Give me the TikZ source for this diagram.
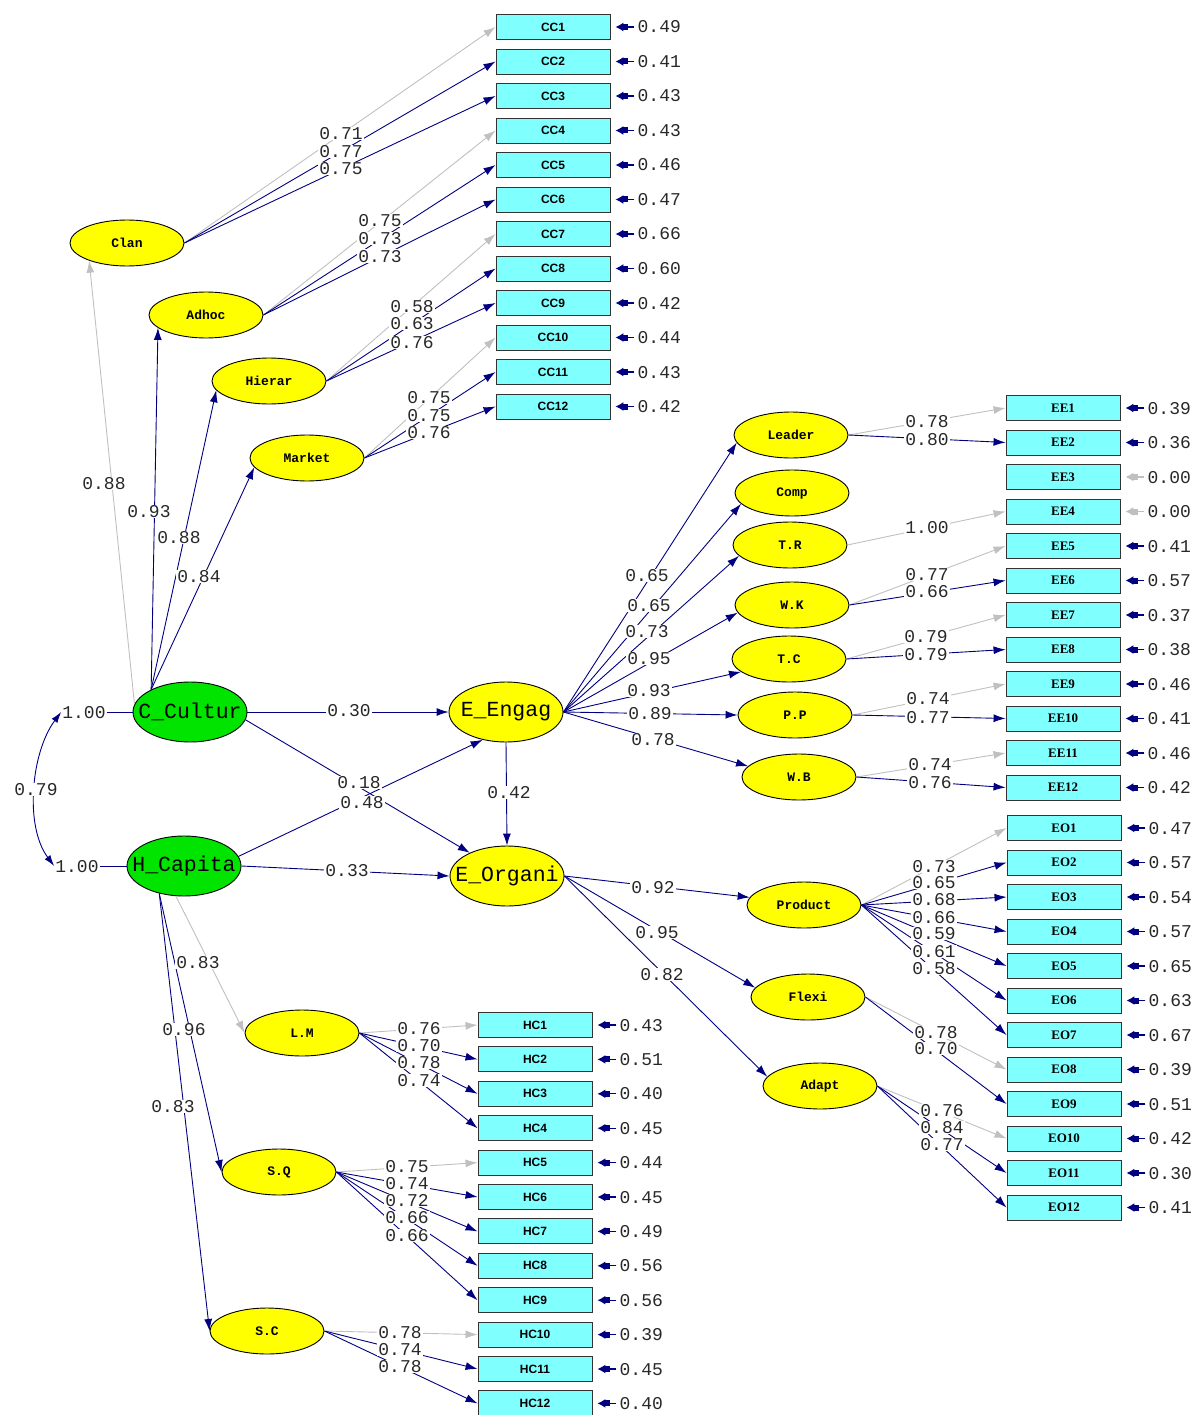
\documentclass[tikz,border=0pt]{standalone}
\usepackage{fontspec}
\usetikzlibrary{shapes.geometric,arrows.meta,positioning}
\newfontfamily\lismono{Liberation Mono}
\newfontfamily\lissans{Liberation Sans}
\newfontfamily\lisserif{Liberation Serif}
\definecolor{lisnavy}{RGB}{0,0,128}
\definecolor{lisgray}{RGB}{192,192,192}
\definecolor{boxcyan}{RGB}{128,255,255}
\definecolor{latyellow}{RGB}{255,255,0}
\definecolor{ksigreen}{RGB}{0,228,0}
\definecolor{numtext}{RGB}{40,40,40}
\tikzset{
  latent/.style={ellipse, draw=black, line width=0.9pt, fill=latyellow, minimum width=114pt, minimum height=46pt,
    inner sep=0pt, font=\lismono\bfseries\fontsize{13}{13}\selectfont},
  bigfactor/.style={latent, minimum height=60pt, inner xsep=-16pt, font=\lismono\fontsize{21.5}{22}\selectfont},
  ksi/.style={bigfactor, fill=ksigreen},
  obs/.style={rectangle, draw=black!80, line width=0.9pt, fill=boxcyan, minimum width=114pt, minimum height=25pt,
    inner sep=0pt, font=\lissans\bfseries\fontsize{12}{12}\selectfont},
  obsserif/.style={obs, font=\lisserif\bfseries\fontsize{13}{13}\selectfont},
  coef/.style={fill=white, inner xsep=1pt, inner ysep=0.5pt, text height=12pt, text depth=0pt,
    text=numtext, font=\lismono\fontsize{18}{18}\selectfont},
  errlbl/.style={inner xsep=1pt, inner ysep=0.5pt, text height=12pt, text depth=0pt,
    text=numtext, font=\lismono\fontsize{18}{18}\selectfont},
  load/.style={draw=lisnavy, line width=0.9pt, -{Latex[length=12pt,width=8pt]}},
  fixed/.style={load, draw=lisgray},
  errarr/.style={draw=lisnavy, line width=1.2pt, shorten >=5pt, shorten <=2pt,
    -{Rectangle[length=5pt,width=6pt]Latex[length=8pt,width=9pt]}},
}
\begin{document}
\begin{tikzpicture}[x=1pt,y=-1pt]
\useasboundingbox (0,0) rectangle (1197,1415);

% indicators with their error variances
\foreach \i/\e in {1/0.49,2/0.41,3/0.43,4/0.43,5/0.46,6/0.47,7/0.66,8/0.60,9/0.42,10/0.44,11/0.43,12/0.42}{
  \node[obs] (cc\i) at (553,{27+34.5*(\i-1)}) {CC\i};
  \node[errlbl, right=26pt of cc\i] (cce\i) {\e};
  \draw[errarr] (cce\i) -- (cc\i);
}
\foreach \i/\e/\c in {1/0.39/lisnavy,2/0.36/lisnavy,3/0.00/lisgray,4/0.00/lisgray,5/0.41/lisnavy,6/0.57/lisnavy,
    7/0.37/lisnavy,8/0.38/lisnavy,9/0.46/lisnavy,10/0.41/lisnavy,11/0.46/lisnavy,12/0.42/lisnavy}{
  \node[obsserif] (ee\i) at (1063,{408+34.5*(\i-1)}) {EE\i};
  \node[errlbl, right=26pt of ee\i] (eee\i) {\e};
  \draw[errarr, draw=\c] (eee\i) -- (ee\i);
}
\foreach \i/\e in {1/0.47,2/0.57,3/0.54,4/0.57,5/0.65,6/0.63,7/0.67,8/0.39,9/0.51,10/0.42,11/0.30,12/0.41}{
  \node[obsserif] (eo\i) at (1064,{828+34.5*(\i-1)}) {EO\i};
  \node[errlbl, right=26pt of eo\i] (eoe\i) {\e};
  \draw[errarr] (eoe\i) -- (eo\i);
}
\foreach \i/\e in {1/0.43,2/0.51,3/0.40,4/0.45,5/0.44,6/0.45,7/0.49,8/0.56,9/0.56,10/0.39,11/0.45,12/0.40}{
  \node[obs] (hc\i) at (535,{1025+34.4*(\i-1)}) {HC\i};
  \node[errlbl, right=26pt of hc\i] (hce\i) {\e};
  \draw[errarr] (hce\i) -- (hc\i);
}

% latent variables
\node[latent] (clan) at (127,243) {Clan};
\node[latent] (adhoc) at (206,315) {Adhoc};
\node[latent] (hierar) at (269,381) {Hierar};
\node[latent] (market) at (307,458) {Market};
\node[ksi] (ccult) at (190,712) {C\_Cultur};
\node[ksi] (hcap) at (184,866) {H\_Capita};
\node[bigfactor] (eeng) at (506,712) {E\_Engag};
\node[bigfactor] (eorg) at (507,876) {E\_Organi};
\node[latent] (leader) at (791,435) {Leader};
\node[latent] (comp) at (792,493) {Comp};
\node[latent] (tr) at (790,545) {T.R};
\node[latent] (wk) at (792,605) {W.K};
\node[latent] (tc) at (789,659) {T.C};
\node[latent] (pp) at (795,715) {P.P};
\node[latent] (wb) at (799,777) {W.B};
\node[latent] (product) at (804,905) {Product};
\node[latent] (flexi) at (808,997) {Flexi};
\node[latent] (adapt) at (820,1086) {Adapt};
\node[latent] (lm) at (302,1033) {L.M};
\node[latent] (sq) at (279,1172) {S.Q};
\node[latent] (sc) at (267,1331) {S.C};

% variances and covariance of the exogenous factors
\node[coef] (vc) at (84,712) {1.00};
\node[coef] (vh) at (77,866) {1.00};
\draw[lisnavy, line width=0.9pt] (vc) -- (ccult);
\draw[lisnavy, line width=0.9pt] (vh) -- (hcap);
\draw[lisnavy, line width=0.9pt, {Latex[length=11pt,width=7pt]}-{Latex[length=11pt,width=7pt]}]
  (vc.west) .. controls +(-30,40) and +(-30,-40) .. (vh.west);

% second order loadings
\draw[fixed] (ccult.172) -- (clan.205);
\draw[load] (ccult.150) -- (adhoc.195);
\draw[load] (ccult.150) -- (hierar.190);
\draw[load] (ccult.150) -- (market.190);
\draw[fixed] (hcap.255) -- (lm.west);
\draw[load] (hcap.228) -- (sq.west);
\draw[load] (hcap.228) -- (sc.west);
\draw[load] (eeng.east) -- (leader.188);
\draw[load] (eeng.east) -- (comp.192);
\draw[load] (eeng.east) -- (tr.192);
\draw[load] (eeng.east) -- (wk.188);
\draw[load] (eeng.east) -- (tc.195);
\draw[load] (eeng.east) -- (pp.west);
\draw[load] (eeng.east) -- (wb.168);
\draw[load] (eorg.east) -- (product.172);
\draw[load] (eorg.east) -- (flexi.170);
\draw[load] (eorg.east) -- (adapt.170);

% structural paths
\draw[load] (ccult.east) -- (eeng.west);
\draw[load] (ccult.-8) -- (eorg.148);
\draw[load] (hcap.10) -- (eeng.230);
\draw[load] (hcap.east) -- (eorg.west);
\draw[load] (eeng.south) -- (eorg.north);

% first order loadings
\draw[fixed] (clan.east) -- (cc1.west);
\foreach \t in {2,3} \draw[load] (clan.east) -- (cc\t.west);
\draw[fixed] (adhoc.east) -- (cc4.west);
\foreach \t in {5,6} \draw[load] (adhoc.east) -- (cc\t.west);
\draw[fixed] (hierar.east) -- (cc7.west);
\foreach \t in {8,9} \draw[load] (hierar.east) -- (cc\t.west);
\draw[fixed] (market.east) -- (cc10.west);
\foreach \t in {11,12} \draw[load] (market.east) -- (cc\t.west);
\draw[fixed] (leader.east) -- (ee1.west);
\draw[load] (leader.east) -- (ee2.west);
\draw[fixed] (tr.east) -- (ee4.west);
\draw[fixed] (wk.east) -- (ee5.west);
\draw[load] (wk.east) -- (ee6.west);
\draw[fixed] (tc.east) -- (ee7.west);
\draw[load] (tc.east) -- (ee8.west);
\draw[fixed] (pp.east) -- (ee9.west);
\draw[load] (pp.east) -- (ee10.west);
\draw[fixed] (wb.east) -- (ee11.west);
\draw[load] (wb.east) -- (ee12.west);
\draw[fixed] (product.east) -- (eo1.west);
\foreach \t in {2,...,7} \draw[load] (product.east) -- (eo\t.west);
\draw[fixed] (flexi.east) -- (eo8.west);
\draw[load] (flexi.east) -- (eo9.west);
\draw[fixed] (adapt.east) -- (eo10.west);
\foreach \t in {11,12} \draw[load] (adapt.east) -- (eo\t.west);
\draw[fixed] (lm.east) -- (hc1.west);
\foreach \t in {2,3,4} \draw[load] (lm.east) -- (hc\t.west);
\draw[fixed] (sq.east) -- (hc5.west);
\foreach \t in {6,...,9} \draw[load] (sq.east) -- (hc\t.west);
\draw[fixed] (sc.east) -- (hc10.west);
\foreach \t in {11,12} \draw[load] (sc.east) -- (hc\t.west);

% coefficients
\foreach \x/\y/\v in {341/134/0.71, 341/152/0.77, 341/169/0.75,
    380/221/0.75, 380/239/0.73, 380/256/0.73,
    412/306/0.58, 412/323/0.63, 412/342/0.76,
    429/397/0.75, 429/415/0.75, 429/432/0.76,
    104/483/0.88, 149/511/0.93, 179/537/0.88, 199/576/0.84,
    349/710/0.30, 359/782/0.18, 362/802/0.48, 509/792/0.42, 347/870/0.33, 36/789/0.79,
    647/575/0.65, 649/605/0.65, 647/631/0.73, 649/658/0.95, 649/690/0.93, 650/713/0.89, 653/739/0.78,
    927/421/0.78, 927/439/0.80, 927/527/1.00, 927/574/0.77, 927/591/0.66,
    926/636/0.79, 926/654/0.79, 928/698/0.74, 928/717/0.77, 930/764/0.74, 930/782/0.76,
    653/887/0.92, 657/932/0.95, 662/974/0.82,
    934/866/0.73, 934/882/0.65, 934/899/0.68, 934/917/0.66, 934/933/0.59, 934/951/0.61, 934/968/0.58,
    936/1032/0.78, 936/1048/0.70, 942/1110/0.76, 942/1127/0.84, 942/1144/0.77,
    198/962/0.83, 184/1029/0.96, 173/1106/0.83,
    419/1028/0.76, 419/1045/0.70, 419/1062/0.78, 419/1080/0.74,
    407/1166/0.75, 407/1183/0.74, 407/1200/0.72, 407/1217/0.66, 407/1235/0.66,
    400/1332/0.78, 400/1349/0.74, 400/1366/0.78}
  \node[coef] at (\x,\y) {\v};
\end{tikzpicture}
\end{document}
